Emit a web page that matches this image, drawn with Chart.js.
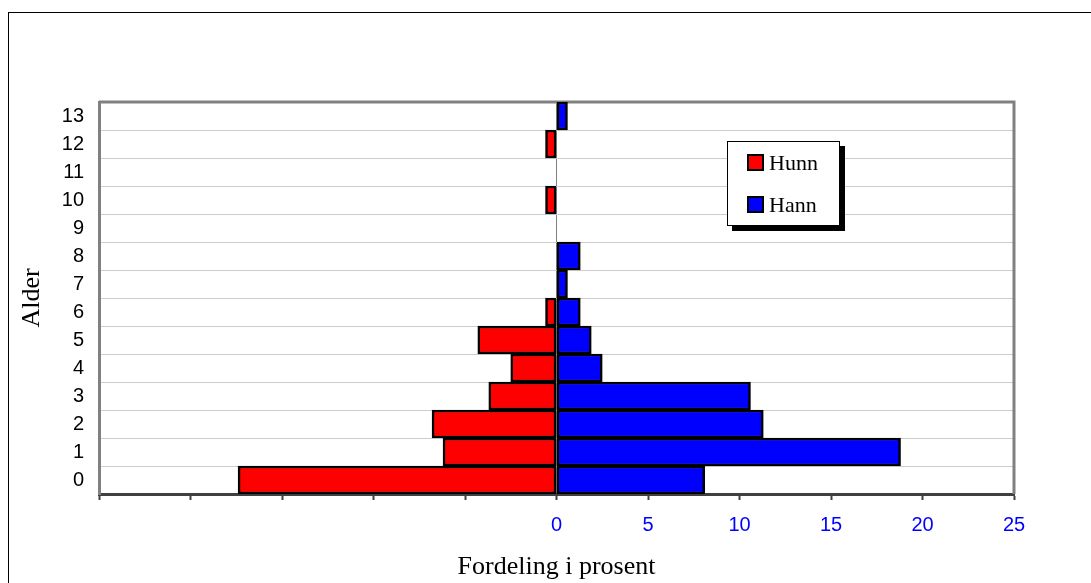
<!DOCTYPE html>
<html>
<head>
<meta charset="utf-8">
<script src="https://cdn.jsdelivr.net/npm/chart.js@4/dist/chart.umd.min.js"></script>
<style>
  html, body { margin: 0; padding: 0; background: #fff; overflow: hidden; }
  #wrap { position: relative; width: 1091px; height: 583px; overflow: hidden; }
  #frame { position: absolute; left: 8px; top: 12px; width: 1200px; height: 700px; border: 1.5px solid #000; box-sizing: border-box; }
  canvas { position: absolute; left: 0; top: 0; }
</style>
</head>
<body>
<div id="wrap">
  <div id="frame"></div>
  <canvas id="c" width="1091" height="583"></canvas>
</div>
<script>
// Age classes (years), bottom to top
const ages = ['0','1','2','3','4','5','6','7','8','9','10','11','12','13'];
// Share of each sex per age class, percent
const hunn = [17.4, 6.2, 6.8, 3.7, 2.5, 4.3, 0.6, null, null, null, 0.6, null, 0.6, null];
const hann = [8.1, 18.8, 11.3, 10.6, 2.5, 1.9, 1.3, 0.6, 1.3, null, null, null, null, 0.6];
const seriesNames = ['Hunn', 'Hann'];
const seriesColors = ['#ff0000', '#0000ff'];
const xTicks = [-25, -20, -15, -10, -5, 0, 5, 10, 15, 20, 25];

const sansFont = '"Liberation Sans", Arial, sans-serif';
const serifFont = '"Liberation Serif", "Times New Roman", serif';

// Gray frame on the top and right of the plot area
const plotFrame = {
  id: 'plotFrame',
  beforeDatasetsDraw(chart) {
    const a = chart.chartArea, ctx = chart.ctx;
    ctx.save();
    ctx.strokeStyle = '#808080';
    ctx.lineWidth = 3;
    ctx.beginPath();
    ctx.moveTo(a.left, a.top);
    ctx.lineTo(a.right, a.top);
    ctx.lineTo(a.right, a.bottom);
    ctx.stroke();
    ctx.restore();
  }
};

// Boxed legend with a drop shadow inside the plot
const boxLegend = {
  id: 'boxLegend',
  afterDraw(chart) {
    const ctx = chart.ctx;
    const x = 727, y = 141, w = 113, h = 85;
    ctx.save();
    ctx.fillStyle = '#000';
    ctx.fillRect(x + 5, y + 5, w, h);
    ctx.fillStyle = '#fff';
    ctx.fillRect(x, y, w, h);
    ctx.strokeStyle = '#000';
    ctx.lineWidth = 1;
    ctx.strokeRect(x + 0.5, y + 0.5, w - 1, h - 1);
    ctx.font = '22px ' + serifFont;
    ctx.textBaseline = 'middle';
    ctx.textAlign = 'left';
    chart.data.datasets.forEach((ds, i) => {
      const cy = y + 22 + i * 42;
      ctx.fillStyle = ds.backgroundColor;
      ctx.fillRect(748, cy - 8, 15, 15);
      ctx.strokeStyle = '#000';
      ctx.lineWidth = 2;
      ctx.strokeRect(748, cy - 8, 15, 15);
      ctx.fillStyle = '#000';
      ctx.fillText(ds.label, 769, cy + 1);
    });
    ctx.restore();
  }
};

new Chart(document.getElementById('c'), {
  type: 'bar',
  data: {
    labels: ages,
    datasets: [
      {
        label: seriesNames[0],
        data: hunn.map(v => v == null ? null : -v),
        backgroundColor: seriesColors[0],
        borderColor: '#000',
        borderWidth: 2.5,
        borderSkipped: false,
        categoryPercentage: 1,
        barPercentage: 1
      },
      {
        label: seriesNames[1],
        data: hann,
        backgroundColor: seriesColors[1],
        borderColor: '#000',
        borderWidth: 2.5,
        borderSkipped: false,
        categoryPercentage: 1,
        barPercentage: 1
      }
    ]
  },
  options: {
    indexAxis: 'y',
    responsive: false,
    animation: false,
    devicePixelRatio: 1,
    layout: { padding: { top: 102, right: 77, left: 0, bottom: 0 } },
    plugins: {
      legend: { display: false },
      tooltip: { enabled: false }
    },
    scales: {
      x: {
        type: 'linear',
        stacked: true,
        min: -25,
        max: 25,
        afterBuildTicks(scale) { scale.ticks = xTicks.map(v => ({ value: v })); },
        afterFit(scale) { scale.height = 89; },
        ticks: {
          color: '#0000ff',
          font: { family: sansFont, size: 20 },
          padding: 13,
          maxRotation: 0,
          callback: v => (v < 0 ? '' : String(v))
        },
        grid: {
          drawOnChartArea: true,
          color: ctx => (ctx.tick && ctx.tick.value === 0 ? '#808080' : 'rgba(0,0,0,0)'),
          lineWidth: 1,
          drawTicks: true,
          tickLength: 6,
          tickWidth: 2,
          tickColor: '#404040'
        },
        border: { display: true, color: '#404040', width: 3 },
        title: {
          display: true,
          text: 'Fordeling i prosent',
          color: '#000',
          font: { family: serifFont, size: 26 },
          padding: { top: 0, bottom: 0 }
        }
      },
      y: {
        type: 'category',
        stacked: true,
        reverse: true,
        afterFit(scale) { scale.width = 99; },
        ticks: {
          color: '#000',
          font: { family: sansFont, size: 20 },
          padding: 15
        },
        grid: {
          offset: true,
          color: '#cccccc',
          lineWidth: 1,
          drawTicks: false
        },
        border: { display: true, color: '#808080', width: 3 },
        title: {
          display: true,
          text: 'Alder',
          color: '#000',
          font: { family: serifFont, size: 26 },
          padding: { top: 17, bottom: 0 }
        }
      }
    }
  },
  plugins: [plotFrame, boxLegend]
});
</script>
</body>
</html>
